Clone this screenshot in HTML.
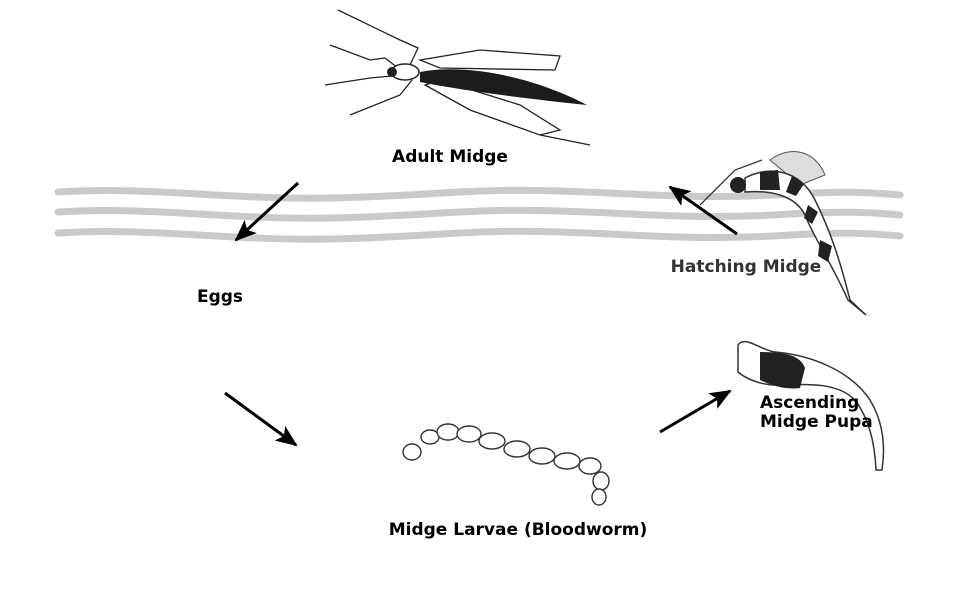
<!DOCTYPE html>
<html><head><meta charset="utf-8"><style>
body{margin:0;background:#fff}
svg{display:block}
text{font-family:"DejaVu Sans","Liberation Sans",sans-serif;font-weight:bold;font-size:17px;fill:#000}
</style></head><body>
<svg width="980" height="600" viewBox="0 0 980 600" xmlns="http://www.w3.org/2000/svg">
<defs>
<marker id="ah2" markerWidth="22" markerHeight="18" refX="20" refY="9" orient="auto" markerUnits="userSpaceOnUse"><path d="M0,0 L22,9 L0,18 L5,9 z" fill="#000"/></marker>
</defs>
<!-- waves -->
<g fill="none" stroke="#cacaca" stroke-width="7" stroke-linecap="round">
<path d="M58,192 C150,186 230,200 330,198 C430,196 470,188 560,191 C650,194 700,200 790,194 C840,191 870,192 900,195"/>
<path d="M58,212 C150,206 230,220 330,218 C430,216 470,208 560,211 C650,214 700,220 790,214 C840,211 870,212 900,215"/>
<path d="M58,233 C150,227 230,241 330,239 C430,237 470,229 560,232 C650,235 700,241 790,235 C840,232 870,233 900,236"/>
</g>
<!-- arrows -->
<g stroke="#000" stroke-width="3">
<line x1="298" y1="183" x2="236" y2="240" marker-end="url(#ah2)"/>
<line x1="225" y1="393" x2="296" y2="445" marker-end="url(#ah2)"/>
<line x1="660" y1="432" x2="730" y2="391" marker-end="url(#ah2)"/>
<line x1="737" y1="234" x2="670" y2="187" marker-end="url(#ah2)"/>
</g>
<!-- adult midge -->
<g stroke="#222" fill="none" stroke-width="1.3">
<path d="M338,10 L400,40 L418,48 L410,65 M330,45 L370,60 L385,58 L398,68 M325,85 L370,78 L392,76 M350,115 L400,95 L412,80"/>
<path d="M420,60 L480,50 L560,56 L555,70 L440,68 z" fill="#fff"/>
<path d="M425,85 L470,110 L540,135 L560,130 L520,105 L440,80 z" fill="#fff"/>
<path d="M540,135 L590,145"/>
</g>
<path d="M420,72 C470,62 540,80 587,105 C540,100 470,92 420,82 z" fill="#1c1c1c"/>
<ellipse cx="405" cy="72" rx="14" ry="8" fill="#fff" stroke="#222" stroke-width="1.5"/>
<circle cx="392" cy="72" r="5" fill="#222"/>
<!-- hatching midge -->
<path d="M770,160 C790,145 815,150 825,175 L800,185z" fill="#ddd" stroke="#555"/>
<path d="M745,178 C770,165 800,170 815,200 C830,230 840,260 850,300 L866,315 L848,300 C830,260 815,240 805,215 C795,195 770,190 745,192z" fill="#fff" stroke="#333" stroke-width="1.5"/>
<g fill="#222"><path d="M760,172 L778,170 L780,190 L760,190z"/><path d="M792,176 L804,184 L796,196 L786,192z"/><path d="M808,205 L818,212 L812,224 L804,218z"/><path d="M820,240 L832,246 L828,262 L818,256z"/></g>
<circle cx="738" cy="185" r="8" fill="#222"/>
<path d="M700,205 L735,170 L762,160" stroke="#333" fill="none" stroke-width="1.3"/>
<!-- pupa -->
<path d="M738,345 C745,335 760,350 775,352 C810,355 850,370 870,400 C885,425 885,450 882,470 L876,470 C875,445 870,420 855,400 C835,380 800,385 775,385 C760,385 745,378 738,372z" fill="#fff" stroke="#333" stroke-width="1.5"/>
<path d="M760,352 C785,352 800,355 805,368 L800,388 C785,390 770,385 760,380z" fill="#222"/>
<!-- larvae -->
<g fill="#fff" stroke="#333" stroke-width="1.4">
<ellipse cx="412" cy="452" rx="9" ry="8"/>
<ellipse cx="430" cy="437" rx="9" ry="7"/>
<ellipse cx="448" cy="432" rx="11" ry="8"/>
<ellipse cx="469" cy="434" rx="12" ry="8"/>
<ellipse cx="492" cy="441" rx="13" ry="8"/>
<ellipse cx="517" cy="449" rx="13" ry="8"/>
<ellipse cx="542" cy="456" rx="13" ry="8"/>
<ellipse cx="567" cy="461" rx="13" ry="8"/>
<ellipse cx="590" cy="466" rx="11" ry="8"/>
<ellipse cx="601" cy="481" rx="8" ry="9"/>
<ellipse cx="599" cy="497" rx="7" ry="8"/>
</g>
<!-- labels -->
<text x="450" y="162" text-anchor="middle">Adult Midge</text>
<text x="220" y="302" text-anchor="middle">Eggs</text>
<text x="746" y="272" text-anchor="middle" style="fill:#333">Hatching Midge</text>
<text x="760" y="408">Ascending</text>
<text x="760" y="427">Midge Pupa</text>
<text x="518" y="535" text-anchor="middle">Midge Larvae (Bloodworm)</text>
</svg>
</body></html>
